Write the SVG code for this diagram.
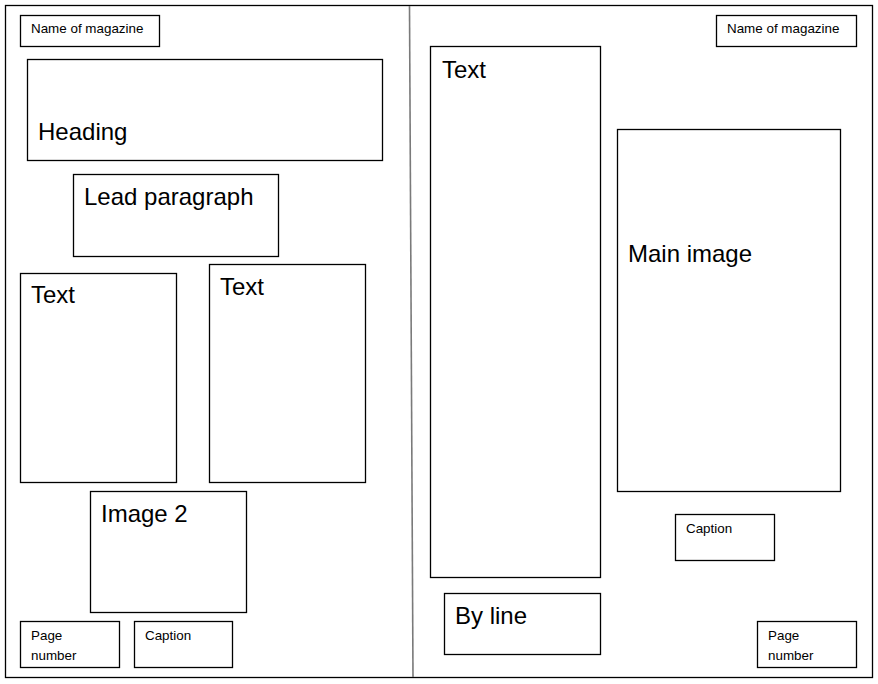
<svg xmlns="http://www.w3.org/2000/svg" width="878" height="684" viewBox="0 0 878 684">
<style>
rect.b{fill:#fff;stroke:#000;stroke-width:1.3}
text{font-family:"Liberation Sans",Arial,sans-serif;fill:#000}
.s{font-size:13.4px}
.l{font-size:24px}
</style>
<rect x="0" y="0" width="878" height="684" fill="#fff"/>
<g id="page">
<rect x="5.5" y="5.5" width="867" height="672" fill="none" stroke="#000" stroke-width="1.3"/>
<line x1="409.5" y1="6" x2="413" y2="677" stroke="#7a7a7a" stroke-width="1.6"/>
</g>
<g id="name-left"><rect class="b" x="20.5" y="15.5" width="139" height="31"/><text class="s" x="31" y="33">Name of magazine</text></g>
<g id="heading"><rect class="b" x="27.5" y="59.5" width="355" height="101"/><text class="l" x="38" y="140">Heading</text></g>
<g id="lead"><rect class="b" x="73.5" y="174.5" width="205" height="82"/><text class="l" x="84" y="205">Lead paragraph</text></g>
<g id="text-left-1"><rect class="b" x="20.5" y="273.5" width="156" height="209"/><text class="l" x="31" y="303">Text</text></g>
<g id="text-left-2"><rect class="b" x="209.5" y="264.5" width="156" height="218"/><text class="l" x="220" y="295">Text</text></g>
<g id="image2"><rect class="b" x="90.5" y="491.5" width="156" height="121"/><text class="l" x="101" y="522">Image 2</text></g>
<g id="page-number-left"><rect class="b" x="20.5" y="621.5" width="99" height="46"/><text class="s" x="31" y="640">Page</text><text class="s" x="31" y="660">number</text></g>
<g id="caption-left"><rect class="b" x="134.5" y="621.5" width="98" height="46"/><text class="s" x="145" y="640">Caption</text></g>
<g id="name-right"><rect class="b" x="716.5" y="15.5" width="140" height="31"/><text class="s" x="727" y="33">Name of magazine</text></g>
<g id="text-right"><rect class="b" x="430.5" y="46.5" width="170" height="531"/><text class="l" x="442" y="78">Text</text></g>
<g id="main-image"><rect class="b" x="617.5" y="129.5" width="223" height="362"/><text class="l" x="628" y="262">Main image</text></g>
<g id="caption-right"><rect class="b" x="675.5" y="514.5" width="99" height="46"/><text class="s" x="686" y="533">Caption</text></g>
<g id="byline"><rect class="b" x="444.5" y="593.5" width="156" height="61"/><text class="l" x="455" y="624">By line</text></g>
<g id="page-number-right"><rect class="b" x="757.5" y="621.5" width="99" height="46"/><text class="s" x="768" y="640">Page</text><text class="s" x="768" y="660">number</text></g>
<g id="connectors"></g>
</svg>
